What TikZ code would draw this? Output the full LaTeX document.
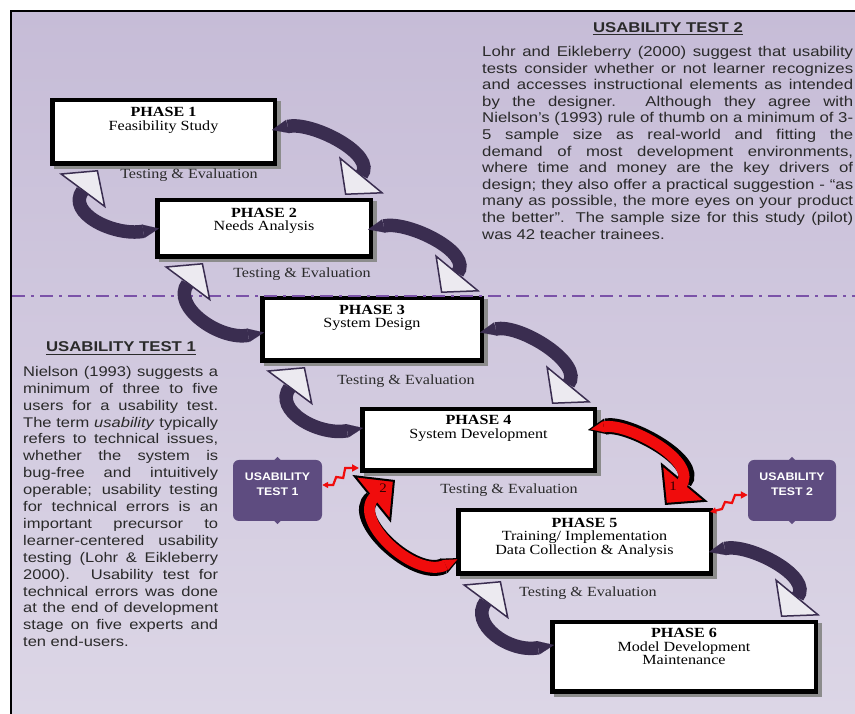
\documentclass[tikz,border=0pt]{standalone}
\usepackage{fontspec}
\setmainfont{Liberation Serif}
\newfontfamily\parafont[FakeStretch=1.18]{Liberation Sans}
\newfontfamily\phasefont[FakeStretch=1.15]{Liberation Serif}
\newfontfamily\boxfont[FakeStretch=1.12]{Liberation Sans}
\usetikzlibrary{arrows.meta,calc}
\definecolor{bgtop}{HTML}{C6BCD7}
\definecolor{bgbot}{HTML}{DCD6E6}
\definecolor{dashc}{HTML}{7B52A8}
\definecolor{darkarr}{HTML}{3A2D50}
\definecolor{headc}{HTML}{ECEAF0}
\definecolor{utc}{HTML}{5E4C80}
\definecolor{redc}{HTML}{F00C0C}
\definecolor{txtc}{HTML}{2A2A2A}
\definecolor{shadowc}{HTML}{8C8C8C}
\newcommand\utoneline[1]{\hbox to 195pt{#1}\\}
\newcommand\uttwoline[1]{\hbox to 371pt{#1}\\}
\tikzset{
  phasebox/.style={draw=black, line width=4.5pt, fill=white, inner sep=0pt,
    preaction={draw=shadowc, fill=shadowc, transform canvas={xshift=3.5pt,yshift=-3.5pt}}},
  phasetext/.style={font=\phasefont\fontsize{14}{13.5}\selectfont, align=center, inner sep=0pt, anchor=north, text=black},
  testlbl/.style={font=\phasefont\fontsize{14}{14}\selectfont, inner sep=0pt, text=txtc},
  headlbl/.style={font=\parafont\bfseries\fontsize{14.2}{16}\selectfont, inner sep=0pt, anchor=base, text=txtc},
  uline/.style={draw=txtc, line width=1.3pt},
  paranode/.style={anchor=north west, inner sep=0pt, align=justify, text=txtc},
  fwdarrow/.style={draw=darkarr, line width=13.5pt,
    {Triangle[width=13.5pt,length=16pt,line width=0.01pt]}-{Triangle[width=58pt,length=26pt,fill=headc,line width=1.5pt]}},
  redouter/.style={draw=black, line width=16pt,
    {Triangle[width=16pt,length=18pt,line width=0.01pt]}-{Triangle[width=61pt,length=30pt,fill=redc,line width=2pt]}},
  redinner/.style={draw=redc, line width=11pt, shorten >=24pt, shorten <=3pt,
    {Triangle[width=11pt,length=13pt,line width=0.01pt]}-},
  zig/.style={draw=redc, line width=2.2pt, line join=miter,
    {Triangle[length=6pt,width=6pt]}-{Triangle[length=7pt,width=7pt]}},
  utbox/.style={fill=utc, rounded corners=6pt, inner sep=0pt, draw=none},
  uttext/.style={font=\boxfont\bfseries\fontsize{11}{15}\selectfont, text=white, align=center, inner sep=0pt},
  numlbl/.style={font=\phasefont\fontsize{13}{13}\selectfont, text=black!80!red, inner sep=0pt},
  dashline/.style={draw=dashc, line width=2.5pt, dash pattern=on 13pt off 6pt on 3pt off 6pt}
}
\begin{document}
\begin{tikzpicture}[x=1pt,y=1pt]
\useasboundingbox (0,0) rectangle (855,714);
\fill[white] (0,0) rectangle (855,714);
\shade[top color=bgtop, bottom color=bgbot] (11,0) rectangle (855,703);
\draw[line width=2.5pt] (11,0) -- (11,703) -- (855,703);

% ---- text blocks
\node[headlbl] (h2) at (668,681.7) {USABILITY TEST 2};
\draw[uline] ($(h2.base west)+(0,-2.2)$) -- ($(h2.base east)+(0,-2.2)$);
\node[paranode, text width=371pt, font=\parafont\fontsize{14.2}{16.6}\selectfont] (ut2p) at (482,668) {%
\uttwoline{Lohr and Eikleberry (2000) suggest that usability}%
\uttwoline{tests consider whether or not learner recognizes}%
\uttwoline{and accesses instructional elements as intended}%
\uttwoline{by the designer.  Although they agree with}%
\uttwoline{Nielson’s (1993) rule of thumb on a minimum of 3-}%
\uttwoline{5 sample size as  real-world and fitting the}%
\uttwoline{demand of most development environments,}%
\uttwoline{where time and money are the key drivers of}%
\uttwoline{design; they also offer a practical suggestion - “as}%
\uttwoline{many as possible, the more eyes on your product}%
\uttwoline{the better”.  The sample size for this study (pilot)}%
\hbox{was 42 teacher trainees.}};

\node[headlbl] (h1) at (121,362.3) {USABILITY TEST 1};
\draw[uline] ($(h1.base west)+(0,-2.6)$) -- ($(h1.base east)+(0,-2.6)$);
\node[paranode, text width=195pt, font=\parafont\fontsize{14}{16.9}\selectfont] (ut1p) at (23,348) {%
\utoneline{Nielson (1993) suggests a}%
\utoneline{minimum of three to five}%
\utoneline{users for a usability test.}%
\utoneline{The term \textit{usability} typically}%
\utoneline{refers to technical issues,}%
\utoneline{whether the system is}%
\utoneline{bug-free and intuitively}%
\utoneline{operable; usability testing}%
\utoneline{for technical errors is an}%
\utoneline{important precursor to}%
\utoneline{learner-centered usability}%
\utoneline{testing (Lohr \& Eikleberry}%
\utoneline{2000).  Usability test for}%
\utoneline{technical errors was done}%
\utoneline{at the end of development}%
\utoneline{stage on five experts and}%
\hbox{ten end-users.}};

% ---- phase boxes
\node[phasebox, minimum width=222.5pt, minimum height=63.5pt] (p1) at (163.5,582) {};
\node[phasebox, minimum width=213.5pt, minimum height=56.5pt] (p2) at (264,485.5) {};
\node[phasebox, minimum width=219.5pt, minimum height=62.5pt] (p3) at (372,384.5) {};
\node[phasebox, minimum width=232.5pt, minimum height=61.5pt] (p4) at (478.5,274) {};
\node[phasebox, minimum width=252.5pt, minimum height=63.5pt] (p5) at (584.5,172) {};
\node[phasebox, minimum width=263.5pt, minimum height=69.5pt] (p6) at (684,57) {};

\node[phasetext] (p1t) at ($(p1.north)+(0,-9.5)$) {\textbf{PHASE 1}\\Feasibility Study};
\node[phasetext] (p2t) at ($(p2.north)+(0,-10)$) {\textbf{PHASE 2}\\Needs Analysis};
\node[phasetext] (p3t) at ($(p3.north)+(0,-9)$) {\textbf{PHASE 3}\\System Design};
\node[phasetext] (p4t) at ($(p4.north)+(0,-8.5)$) {\textbf{PHASE 4}\\System Development};
\node[phasetext] (p5t) at ($(p5.north)+(0,-10)$) {\textbf{PHASE 5}\\Training/ Implementation\\Data Collection \& Analysis};
\node[phasetext] (p6t) at ($(p6.north)+(0,-8.5)$) {\textbf{PHASE 6}\\Model Development\\Maintenance};

% ---- dashed divider
\coordinate (dl0) at (12,418);
\coordinate (dl1) at (855,418);
\draw[dashline] (dl0) -- (dl1);

% ---- testing labels
\node[testlbl] (t1) at (189,539) {Testing \& Evaluation};
\node[testlbl] (t2) at (302,440) {Testing \& Evaluation};
\node[testlbl] (t3) at (406,333) {Testing \& Evaluation};
\node[testlbl] (t4) at (509,224) {Testing \& Evaluation};
\node[testlbl] (t5) at (588,121) {Testing \& Evaluation};

% ---- forward arrows
\coordinate (f12s) at ($(p1.east)+(-5,2)$);
\coordinate (f12t) at ($(p1.east |- p2.north)+(68,3)$);
\draw[fwdarrow] (f12s) .. controls +(40,9) and +(33,40) .. (f12t);
\coordinate (f23s) at ($(p2.east)+(-5,-1)$);
\coordinate (f23t) at ($(p2.east |- p3.north)+(68,3)$);
\draw[fwdarrow] (f23s) .. controls +(40,9) and +(33,40) .. (f23t);
\coordinate (f34s) at ($(p3.east)+(-4,-3)$);
\coordinate (f34t) at ($(p3.east |- p4.north)+(68,3)$);
\draw[fwdarrow] (f34s) .. controls +(40,9) and +(33,40) .. (f34t);
\coordinate (f56s) at ($(p5.east)+(-4,-10)$);
\coordinate (f56t) at ($(p5.east |- p6.north)+(68,3)$);
\draw[fwdarrow] (f56s) .. controls +(40,9) and +(33,40) .. (f56t);

% ---- feedback arrows
\coordinate (b21s) at ($(p2.west)+(4,0)$);
\coordinate (b21t) at ($(p1.south west)+(48,-4)$);
\draw[fwdarrow] (b21s) .. controls +(-45,-8) and +(-32,-43) .. (b21t);
\coordinate (b32s) at ($(p3.west)+(4,-3)$);
\coordinate (b32t) at ($(p2.south west)+(48,-4)$);
\draw[fwdarrow] (b32s) .. controls +(-45,-8) and +(-32,-43) .. (b32t);
\coordinate (b43s) at ($(p4.west)+(3,12)$);
\coordinate (b43t) at ($(p3.south west)+(45,-4)$);
\draw[fwdarrow] (b43s) .. controls +(-45,-8) and +(-32,-43) .. (b43t);
\coordinate (b65s) at ($(p6.west)+(4,12)$);
\coordinate (b65t) at ($(p5.south west)+(45,-5)$);
\draw[fwdarrow] (b65s) .. controls +(-45,-8) and +(-32,-43) .. (b65t);

% ---- red arrows
\coordinate (f45s) at ($(p4.east)+(-9,10)$);
\coordinate (f45t) at ($(p4.east |- p5.north)+(68,3)$);
\draw[redouter] (f45s) .. controls +(40,8) and +(36,43) .. (f45t);
\draw[redinner] (f45s) .. controls +(40,8) and +(36,43) .. (f45t);
\coordinate (b54s) at ($(p5.west)+(4,-16)$);
\coordinate (b54t) at ($(p4.south west)+(35,-7)$);
\draw[redouter] (b54s) .. controls +(-45,-22) and +(-47,-38) .. (b54t);
\draw[redinner] (b54s) .. controls +(-45,-22) and +(-47,-38) .. (b54t);
\node[numlbl] (n1) at (673,228) {1};
\node[numlbl] (n2) at (383,226) {2};

% ---- usability test boxes
\node[utbox, minimum width=89pt, minimum height=61pt] (ut1) at (277.5,223.5) {};
\node[utbox, minimum width=88pt, minimum height=61pt] (ut2) at (792,223.5) {};
\fill[utc] ($(ut1.north)+(-4,-1)$) -- ($(ut1.north)+(0,3)$) -- ($(ut1.north)+(4,-1)$) -- cycle;
\fill[utc] ($(ut1.south)+(-4,1)$) -- ($(ut1.south)+(0,-3)$) -- ($(ut1.south)+(4,1)$) -- cycle;
\fill[utc] ($(ut2.north)+(-4,-1)$) -- ($(ut2.north)+(0,3)$) -- ($(ut2.north)+(4,-1)$) -- cycle;
\fill[utc] ($(ut2.south)+(-4,1)$) -- ($(ut2.south)+(0,-3)$) -- ($(ut2.south)+(4,1)$) -- cycle;
\node[uttext] (ut1t) at ($(ut1.center)+(0,6)$) {USABILITY\\TEST 1};
\node[uttext] (ut2t) at ($(ut2.center)+(0,6)$) {USABILITY\\TEST 2};

% ---- red zigzag connectors
\coordinate (z1a) at ($(ut1.east)+(0,5.5)$);
\coordinate (z1b) at ($(p4.south west)+(-1,5)$);
\draw[zig] (z1a) -- ++(11,0) -- ++(3,8) -- ++(7,-1) -- ++(2,10) -- (z1b);
\coordinate (z2a) at ($(p5.north east)+(-3,-4)$);
\coordinate (z2b) at ($(ut2.west)+(0,-4.5)$);
\draw[zig] (z2a) -- ++(12,3) -- ++(3,7) -- ++(7,-1) -- ++(3,8) -- (z2b);
\end{tikzpicture}
\end{document}
